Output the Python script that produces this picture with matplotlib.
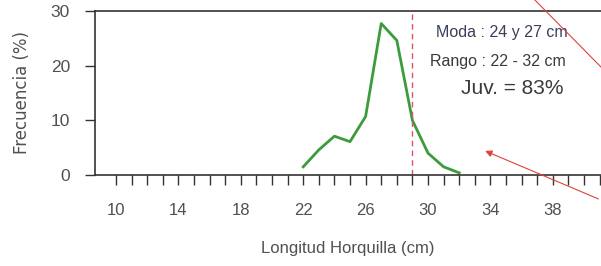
import matplotlib
matplotlib.use('Agg')
import matplotlib.pyplot as plt
from matplotlib.lines import Line2D

# datos
longitud = [22, 23, 24, 25, 26, 27, 28, 29, 30, 31, 32]
frecuencia = [1.5, 4.6, 7.1, 6.1, 10.7, 27.7, 24.6, 10.0, 4.0, 1.5, 0.4]
talla_minima = 29
xticks_mayores = [10, 14, 18, 22, 26, 30, 34, 38]
yticks = [0, 10, 20, 30]

plt.rcParams['font.family'] = ['Liberation Sans', 'DejaVu Sans']

gris = '#505050'
fig = plt.figure(figsize=(6.01, 2.66), dpi=100)
ax = fig.add_axes([0.158, 0.342, 0.87, 0.617])

ax.plot(longitud, frecuencia, color='#3c9c3c', lw=2)
ax.axvline(talla_minima, color='#e0506a', lw=1, ls=(0, (4, 3)))

ax.set_xlim(8.65, 8.65 + 0.87 * 601 / 15.6)
ax.set_ylim(0, 30)
ax.set_xticks(xticks_mayores)
ax.set_xticks(range(10, 42), minor=True)
ax.set_yticks(yticks)
ax.tick_params(axis='x', which='both', direction='out', length=7, width=1,
               colors='#333333', labelcolor=gris, labelsize=12, pad=13)
ax.tick_params(axis='y', direction='out', length=7, width=1,
               colors='#333333', labelcolor=gris, labelsize=12.5, pad=11)
ax.spines['right'].set_visible(False)
for s in ['left', 'bottom', 'top']:
    ax.spines[s].set_color('#333333')
    ax.spines[s].set_linewidth(1.2)

ax.set_ylabel('Frecuencia (%)', color=gris, fontsize=12, family='DejaVu Sans', labelpad=14)
ax.set_xlabel('Longitud Horquilla (cm)', color=gris, fontsize=12)
ax.xaxis.set_label_coords((348 - 95) / (0.87 * 601), -0.445)
ax.xaxis.label.set_va('center')

ax.text(34.74, 26.0, 'Moda : 24 y 27 cm', ha='center', va='center', fontsize=11.5,
        color='#3a3f5a', fontstretch='condensed')
ax.text(34.48, 20.7, 'Rango : 22 - 32 cm', ha='center', va='center', fontsize=11.5,
        color='#3a3a3a', fontstretch='condensed')
ax.text(35.38, 15.9, 'Juv. = 83%', ha='center', va='center', fontsize=15,
        color='#3a3a3a', fontstretch='condensed')

# trazos rojos de anotacion sobre la figura
ax.annotate('', xy=(33.5, 4.6), xycoords='data', xytext=(1.0, 0.248), textcoords='figure fraction',
            arrowprops=dict(arrowstyle='-|>', color='#e04040', lw=0.8, mutation_scale=10))
fig.add_artist(Line2D([0.89, 1.0], [1.0, 0.748], transform=fig.transFigure, color='#e04040', lw=0.8))

fig.savefig('out.png', dpi=100)
